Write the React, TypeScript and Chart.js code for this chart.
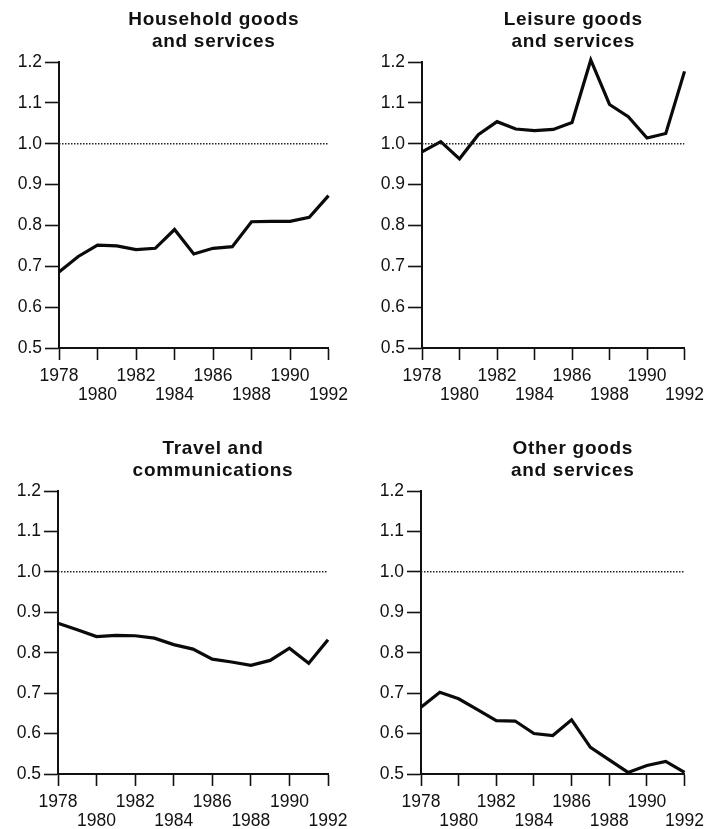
import React, { useEffect, useRef } from 'react';
import { Chart, registerables } from 'chart.js';

Chart.register(...registerables);

// ---------- data ----------
const years = [1978, 1979, 1980, 1981, 1982, 1983, 1984, 1985, 1986, 1987, 1988, 1989, 1990, 1991, 1992];

const household = [0.686, 0.724, 0.752, 0.750, 0.741, 0.744, 0.790, 0.730, 0.744, 0.748, 0.809, 0.810, 0.810, 0.820, 0.873];
const leisure = [0.980, 1.005, 0.963, 1.022, 1.054, 1.036, 1.032, 1.035, 1.052, 1.205, 1.096, 1.066, 1.014, 1.025, 1.177];
const travel = [0.873, 0.857, 0.840, 0.843, 0.842, 0.836, 0.820, 0.809, 0.784, 0.777, 0.769, 0.781, 0.811, 0.774, 0.832];
const other = [0.665, 0.702, 0.686, 0.659, 0.632, 0.631, 0.600, 0.595, 0.634, 0.566, 0.535, 0.504, 0.521, 0.531, 0.504];

const xTickValues = [1978, 1980, 1982, 1984, 1986, 1988, 1990, 1992];
const xTickLabels = ['1978', '1980', '1982', '1984', '1986', '1988', '1990', '1992'];
const yTickValues = [0.5, 0.6, 0.7, 0.8, 0.9, 1.0, 1.1, 1.2];
const yTickLabels = ['0.5', '0.6', '0.7', '0.8', '0.9', '1.0', '1.1', '1.2'];
const referenceLevel = 1.0;

const titleHousehold = ['Household goods', 'and services'];
const titleLeisure = ['Leisure goods', 'and services'];
const titleTravel = ['Travel and', 'communications'];
const titleOther = ['Other goods', 'and services'];

// ---------- layout ----------
type PanelLayout = {
  left: number;
  top: number;
  width: number;
  height: number;
  yAxisWidth: number;
  padTop: number;
  padRight: number;
  xAxisHeight: number;
};

const FONT = '"Liberation Sans", Arial, Helvetica, sans-serif';

const titlePlugin = {
  id: 'panelTitle',
  afterDraw(chart: any) {
    const opts = chart.options.plugins.panelTitle;
    if (!opts || !opts.lines) return;
    const { ctx, chartArea } = chart;
    const cx = (chartArea.left + chartArea.right) / 2 + opts.offsetX;
    ctx.save();
    ctx.fillStyle = '#111';
    ctx.font = `bold 19px ${FONT}`;
    try { (ctx as any).letterSpacing = '0.7px'; } catch (e) { /* ignore */ }
    ctx.textAlign = 'center';
    ctx.textBaseline = 'alphabetic';
    ctx.fillText(opts.lines[0], cx, chartArea.top - 37);
    ctx.fillText(opts.lines[1], cx, chartArea.top - 15);
    ctx.restore();
  },
};

function Panel({ values, title, layout }: { values: number[]; title: string[]; layout: PanelLayout }) {
  const ref = useRef<HTMLCanvasElement | null>(null);

  useEffect(() => {
    if (!ref.current) return;
    const linePoints = years.map((y, i) => ({ x: y, y: values[i] }));
    const refPoints = [
      { x: years[0], y: referenceLevel },
      { x: years[years.length - 1], y: referenceLevel },
    ];
    const chart = new Chart(ref.current, {
      type: 'line',
      data: {
        datasets: [
          {
            data: refPoints,
            borderColor: '#222',
            borderWidth: 1.5,
            borderDash: [1.5, 1.5],
            pointRadius: 0,
            tension: 0,
            fill: false,
          },
          {
            data: linePoints,
            borderColor: '#0a0a0a',
            borderWidth: 3.2,
            pointRadius: 0,
            tension: 0,
            fill: false,
            clip: false as any,
            borderJoinStyle: 'miter',
          },
        ],
      },
      options: {
        animation: false,
        responsive: false,
        events: [],
        layout: {
          padding: { top: layout.padTop, right: layout.padRight, left: 0, bottom: 0 },
        },
        plugins: {
          legend: { display: false },
          tooltip: { enabled: false },
          title: { display: false },
          panelTitle: { lines: title, offsetX: 20 },
        } as any,
        scales: {
          x: {
            type: 'linear',
            min: 1978,
            max: 1992,
            afterBuildTicks: (scale: any) => {
              scale.ticks = xTickValues.map((v) => ({ value: v }));
            },
            afterFit: (scale: any) => {
              scale.height = layout.xAxisHeight;
            },
            grid: {
              display: true,
              drawOnChartArea: false,
              drawTicks: true,
              tickLength: 12,
              tickWidth: 1.6,
              tickColor: '#111',
            },
            border: { display: true, color: '#111', width: 2 },
            ticks: {
              autoSkip: false,
              maxRotation: 0,
              minRotation: 0,
              padding: 7,
              color: '#111',
              font: { family: FONT, size: 17.5, lineHeight: 1.07 },
              callback: (_v: any, i: number) => (i % 2 === 0 ? xTickLabels[i] : ['', xTickLabels[i]]),
            },
          },
          y: {
            type: 'linear',
            min: 0.5,
            max: 1.2,
            afterBuildTicks: (scale: any) => {
              scale.ticks = yTickValues.map((v) => ({ value: v }));
            },
            afterFit: (scale: any) => {
              scale.width = layout.yAxisWidth;
            },
            grid: {
              display: true,
              drawOnChartArea: false,
              drawTicks: true,
              tickLength: 14,
              tickWidth: 1.6,
              tickColor: '#111',
            },
            border: { display: true, color: '#111', width: 2 },
            ticks: {
              autoSkip: false,
              padding: 3,
              color: '#111',
              font: { family: FONT, size: 17.5 },
              callback: (_v: any, i: number) => yTickLabels[i],
            },
          },
        },
      } as any,
      plugins: [titlePlugin],
    });
    return () => chart.destroy();
  }, [values, title, layout]);

  return (
    <canvas
      ref={ref}
      width={layout.width}
      height={layout.height}
      style={{
        position: 'absolute',
        left: layout.left,
        top: layout.top,
        width: layout.width,
        height: layout.height,
        display: 'block',
      }}
    />
  );
}

const layout1: PanelLayout = { left: 0, top: 0, width: 355, height: 414, yAxisWidth: 59, padTop: 62, padRight: 26, xAxisHeight: 66 };
const layout2: PanelLayout = { left: 363, top: 0, width: 348, height: 414, yAxisWidth: 59, padTop: 62, padRight: 21, xAxisHeight: 66 };
const layout3: PanelLayout = { left: 0, top: 414, width: 355, height: 415, yAxisWidth: 58, padTop: 77, padRight: 27, xAxisHeight: 55 };
const layout4: PanelLayout = { left: 362, top: 414, width: 349, height: 415, yAxisWidth: 59, padTop: 77, padRight: 21, xAxisHeight: 55 };

export default function App() {
  return (
    <div
      style={{
        position: 'absolute',
        left: 0,
        top: 0,
        width: 711,
        height: 829,
        background: '#ffffff',
        overflow: 'hidden',
      }}
    >
      <Panel values={household} title={titleHousehold} layout={layout1} />
      <Panel values={leisure} title={titleLeisure} layout={layout2} />
      <Panel values={travel} title={titleTravel} layout={layout3} />
      <Panel values={other} title={titleOther} layout={layout4} />
    </div>
  );
}
